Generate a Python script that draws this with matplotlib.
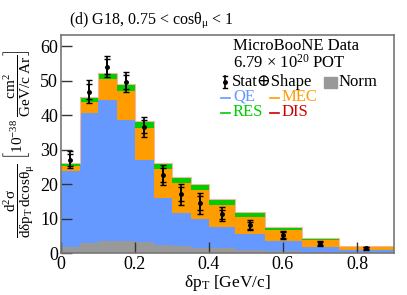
import numpy as np
import matplotlib
matplotlib.use("Agg")
import matplotlib.pyplot as plt
from matplotlib.lines import Line2D

plt.rcParams['font.family'] = ['Liberation Serif', 'DejaVu Serif']
plt.rcParams['mathtext.fontset'] = 'custom'
plt.rcParams['mathtext.rm'] = 'Liberation Serif'
plt.rcParams['mathtext.it'] = 'Liberation Serif:italic'
plt.rcParams['mathtext.sf'] = 'Liberation Serif'

bin_edges = [0, 0.05, 0.1, 0.15, 0.2, 0.25, 0.3, 0.35, 0.4, 0.47, 0.55, 0.65, 0.75, 0.9]
qe  = [23.8, 40.5, 44.3, 38.5, 27.0, 15.9, 11.6, 10.0, 7.4, 5.5, 3.5, 1.8, 0.9]
mec = [1.5, 3.3, 6.1, 8.5, 9.3, 8.4, 8.7, 8.3, 6.6, 5.0, 3.1, 2.0, 0.7]
res = [0.7, 1.2, 1.6, 1.7, 1.9, 1.7, 1.6, 1.6, 1.5, 1.2, 0.7, 0.4, 0.3]
dis = [0.2, 0.2, 0.2, 0.2, 0.2, 0.2, 0.2, 0.2, 0.1, 0.2, 0.1, 0.1, 0.1]
norm = [1.8, 2.8, 3.5, 3.5, 3.1, 2.2, 1.9, 1.5, 1.4, 1.0, 0.6, 0.4, 0.3]
data = [27.0, 46.8, 54.0, 49.6, 36.6, 22.6, 17.0, 14.4, 11.3, 8.1, 5.2, 2.7, 1.4]
err_total = [2.5, 3.3, 3.1, 3.0, 2.9, 2.9, 3.0, 3.0, 1.9, 1.5, 1.2, 0.8, 0.4]
err_stat = [1.7, 2.2, 2.1, 2.0, 1.9, 1.9, 2.0, 2.0, 1.3, 1.0, 0.8, 0.5, 0.3]

C_QE = '#6699ff'
C_MEC = '#ff9c00'
C_RES = '#00cc00'
C_DIS = '#cc0000'
C_NORM = '#999999'

W, H = 407, 295
fig = plt.figure(figsize=(W/100, H/100), dpi=100)
ax = fig.add_axes([61/W, 1-253/H, (394-61)/W, (253-35)/H])

edges = np.array(bin_edges)
centers = 0.5*(edges[1:]+edges[:-1])
base = np.zeros(len(qe))
for vals, col in [(qe, C_QE), (mec, C_MEC), (res, C_RES), (dis, C_DIS)]:
    v = np.array(vals)
    ax.stairs(base+v, edges, baseline=base, fill=True, color=col, lw=0)
    base = base+v
ax.stairs(base, edges, baseline=None, color='#f2b8a0', lw=0.8)
ax.stairs(norm, edges, baseline=0, fill=True, color=C_NORM, lw=0)

ax.errorbar(centers, data, yerr=err_total, fmt='o', color='black', ms=2.5,
            elinewidth=1.2, capsize=2.2, capthick=1.0, zorder=5)
ax.errorbar(centers, data, yerr=err_stat, fmt='none', color='black',
            elinewidth=1.2, capsize=2.2, capthick=1.0, zorder=5)

ax.set_xlim(0, 0.9)
ax.set_ylim(0, 63.2)
ax.set_xticks([0, 0.2, 0.4, 0.6, 0.8])
ax.set_xticklabels(['0', '0.2', '0.4', '0.6', '0.8'])
ax.set_yticks([0, 10, 20, 30, 40, 50, 60])
ax.tick_params(direction='in', length=8, width=1, labelsize=13, pad=2,
               color='#333333')
for s in ax.spines.values():
    s.set_color('#777777')
    s.set_linewidth(1.2)

ax.set_xlabel(r'$\mathrm{\delta p_T}$ [GeV/c]', fontsize=12.5, labelpad=0)
ax.set_ylabel(r'$\dfrac{\mathrm{d^2\sigma}}{\mathrm{d\delta p_T\,dcos\theta_\mu}}\ \left[\mathrm{10^{-38}}\ \dfrac{\mathrm{cm^2}}{\mathrm{GeV/c\ Ar}}\right]$',
              fontsize=11, labelpad=2)

fig.text(69/W, 1-20/H, r'(d) G18, 0.75 < cos$\mathrm{\theta_\mu}$ < 1', fontsize=11.5, va='center', ha='left')

fs = 12
fig.text(233/W, 1-46/H, 'MicroBooNE Data', fontsize=fs, va='center')
fig.text(233/W, 1-63/H, r'6.79 $\times$ 10$^{\mathrm{20}}$ POT', fontsize=fs, va='center')
fig.text(232/W, 1-82/H, 'Stat\u2295Shape', fontsize=fs, va='center',
         family=['Liberation Serif', 'DejaVu Serif'])
# errorbar legend marker
lx = 225/W
fig.add_artist(Line2D([lx, lx], [1-76/H, 1-88/H], color='black', lw=1.2))
for yy in [76, 88]:
    fig.add_artist(Line2D([lx-2/W, lx+2/W], [1-yy/H, 1-yy/H], color='black', lw=1.0))
fig.add_artist(Line2D([lx], [1-82/H], marker='o', ms=2.5, color='black'))
fig.patches.append(plt.Rectangle((324/W, 1-88/H), 13/W, 11/H, transform=fig.transFigure,
                                 color=C_NORM, figure=fig))
fig.text(339/W, 1-82/H, 'Norm', fontsize=fs, va='center')

for (x0, y0, lab, col) in [(221, 97, 'QE', C_QE), (270, 97, 'MEC', C_MEC),
                           (221, 112, 'RES', C_RES), (270, 112, 'DIS', C_DIS)]:
    fig.add_artist(Line2D([x0/W, (x0+9)/W], [1-(y0+1)/H, 1-(y0+1)/H], color=col, lw=1.2))
    fig.text((x0+12)/W, 1-y0/H, lab, fontsize=fs, va='center', color=col)

fig.savefig('out.png', dpi=100)
